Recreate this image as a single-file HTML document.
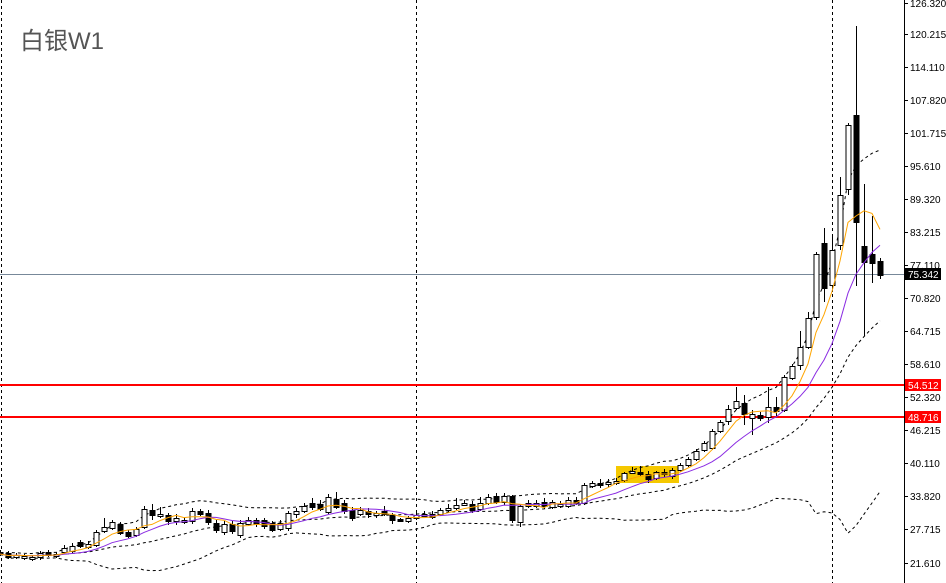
<!DOCTYPE html>
<html><head><meta charset="utf-8"><style>
html,body{margin:0;padding:0;background:#fff;}
svg{display:block;}
text{font-family:"Liberation Sans",sans-serif;}
</style></head><body>
<svg id="c" width="946" height="583" xmlns="http://www.w3.org/2000/svg" shape-rendering="crispEdges">
<rect width="946" height="583" fill="#fff"/>
<rect x="616" y="466" width="63" height="17" fill="#f5c800"/>
<line x1="1.5" y1="0" x2="1.5" y2="583" stroke="#000" stroke-dasharray="3,3"/>
<line x1="416.5" y1="0" x2="416.5" y2="583" stroke="#000" stroke-dasharray="3,3"/>
<line x1="832.5" y1="0" x2="832.5" y2="583" stroke="#000" stroke-dasharray="3,3"/>
<line x1="0" y1="274.5" x2="904" y2="274.5" stroke="#778899"/>
<rect x="0" y="384" width="904" height="2" fill="#ff0000"/>
<rect x="0" y="416" width="904" height="2" fill="#ff0000"/>
<g id="g"></g>
<text x="20" y="49" font-size="24" fill="#555" font-family="'Liberation Sans','Noto Sans CJK SC',sans-serif">白银W1</text>
<line x1="904.5" y1="0" x2="904.5" y2="583" stroke="#000"/>
<g id="ax" font-size="10" fill="#000"></g>
</svg>
<script>
var D=[[552,554,0,550,556],[553,557,0,551,559],[555,557,1,553,559],[556,558,1,554,560],[557,559,1,555,561],[553,557,1,551,560],[552,555,0,550,557],[554,556,1,552,558],[548,552,1,545,554],[546,551,1,543,553],[542,546,0,540,548],[544,547,1,541,549],[532,545,1,530,547],[527,531,1,518,533],[522,528,1,520,530],[524,533,0,522,535],[532,536,0,530,538],[529,535,1,527,537],[509,527,1,506,529],[510,515,0,504,520],[514,516,1,507,518],[515,521,0,513,525],[518,521,1,514,525],[520,522,1,517,524],[511,521,1,508,524],[511,514,0,509,516],[513,522,0,510,525],[523,530,0,520,533],[524,532,1,521,535],[524,531,0,521,534],[523,535,1,520,538],[520,524,1,517,526],[520,524,0,518,527],[520,526,0,518,529],[523,530,0,521,532],[523,529,1,520,531],[513,528,1,511,531],[511,514,1,508,518],[506,511,1,503,513],[503,507,0,498,510],[504,509,0,500,511],[497,512,1,494,514],[499,507,0,492,509],[503,511,0,500,514],[510,518,0,507,521],[510,514,1,507,516],[511,514,0,508,518],[513,515,1,511,518],[511,514,0,506,516],[515,520,0,513,524],[519,521,0,518,522],[518,521,1,516,523],[515,518,1,511,520],[514,516,1,511,517],[514,517,0,511,519],[510,514,1,508,516],[508,510,1,504,513],[505,508,1,498,510],[503,505,1,500,506],[504,510,0,501,513],[503,509,1,497,511],[497,503,1,494,505],[496,502,0,493,504],[496,502,1,493,505],[496,520,0,495,523],[506,522,1,505,527],[503,506,1,500,508],[503,506,1,500,508],[502,506,0,498,509],[502,507,1,500,509],[504,506,1,501,508],[500,506,1,497,508],[500,503,0,497,505],[485,503,1,483,505],[483,486,1,481,488],[483,485,0,479,488],[482,484,1,479,487],[481,483,1,478,485],[473,480,1,472,482],[471,473,1,467,474],[472,474,0,466,476],[474,479,0,471,483],[472,478,1,471,480],[472,474,0,469,477],[470,476,1,468,479],[465,470,1,463,472],[459,465,1,457,467],[451,459,1,449,461],[443,450,1,441,452],[431,448,1,429,450],[422,431,1,420,433],[409,421,1,405,425],[401,408,1,387,410],[403,414,0,395,425],[414,418,1,410,435],[415,418,0,412,421],[407,417,1,387,423],[407,411,0,397,417],[377,410,1,375,412],[366,378,1,364,380],[347,365,1,331,370],[318,347,1,312,349],[254,317,1,252,320],[243,288,0,228,302],[250,285,1,235,292],[195,245,1,177,250],[125,189,1,123,195],[115,222,0,26,286],[246,262,0,184,336],[254,263,0,216,283],[261,275,0,258,279]];
var NS="http://www.w3.org/2000/svg",g=document.getElementById('g');
function el(t,a){var e=document.createElementNS(NS,t);for(var k in a)e.setAttribute(k,a[k]);g.appendChild(e);return e;}
var C=D.map(function(d){return d[2]?d[0]:d[1];});
function ma(n,i){var s=0,c=0;for(var j=Math.max(0,i-n+1);j<=i;j++){s+=C[j];c++;}return s/c;}
var up=[],mid=[],lo=[],o=[],p=[];
for(var i=0;i<C.length;i++){var x=8*i;var m=ma(20,i),v=0,c=0;for(var j=Math.max(0,i-19);j<=i;j++){v+=(C[j]-m)*(C[j]-m);c++;}var sd=Math.sqrt(v/c);
up.push(x+','+(m-2*sd).toFixed(1));mid.push(x+','+m.toFixed(1));lo.push(x+','+(m+2*sd).toFixed(1));o.push(x+','+ma(5,i).toFixed(1));p.push(x+','+ma(10,i).toFixed(1));}
[up,mid,lo].forEach(function(a){el('polyline',{points:a.join(' '),fill:'none',stroke:'#000','stroke-dasharray':'3,3','shape-rendering':'auto'});});
D.forEach(function(d,i){var x=8*i+0.5;el('line',{x1:x,x2:x,y1:d[3],y2:d[4],stroke:'#000'});
el('rect',{x:x-2.5,y:d[0]+0.5,width:5,height:Math.max(1,d[1]-d[0]),fill:d[2]?'#fff':'#000',stroke:'#000'});});
el('polyline',{points:p.join(' '),fill:'none',stroke:'#8a2be2','shape-rendering':'auto'});
el('polyline',{points:o.join(' '),fill:'none',stroke:'#ffa500','shape-rendering':'auto'});
var ax=document.getElementById('ax');
var L=[["126.320",3],["120.215",34],["114.110",67],["107.820",100],["101.715",133],["95.610",166],["89.320",199],["83.215",232],["77.110",265],["70.820",298],["64.715",331],["58.610",364],["52.320",397],["46.215",430],["40.110",463],["33.820",496],["27.715",529],["21.610",563]];
L.forEach(function(l){var t=document.createElementNS(NS,'text');t.setAttribute('x',910);t.setAttribute('y',l[1]+4);t.textContent=l[0];ax.appendChild(t);
var k=document.createElementNS(NS,'line');k.setAttribute('x1',904);k.setAttribute('x2',908);k.setAttribute('y1',l[1]+.5);k.setAttribute('y2',l[1]+.5);k.setAttribute('stroke','#000');ax.appendChild(k);});
[["75.342",274,"#000"],["54.512",385,"#ff0000"],["48.716",417,"#ff0000"]].forEach(function(b){var r=document.createElementNS(NS,'rect');r.setAttribute('x',905);r.setAttribute('y',b[1]-6);r.setAttribute('width',36);r.setAttribute('height',12);r.setAttribute('fill',b[2]);ax.appendChild(r);
var t=document.createElementNS(NS,'text');t.setAttribute('x',908);t.setAttribute('y',b[1]+4);t.setAttribute('fill','#fff');t.textContent=b[0];ax.appendChild(t);});
</script>
</body></html>
